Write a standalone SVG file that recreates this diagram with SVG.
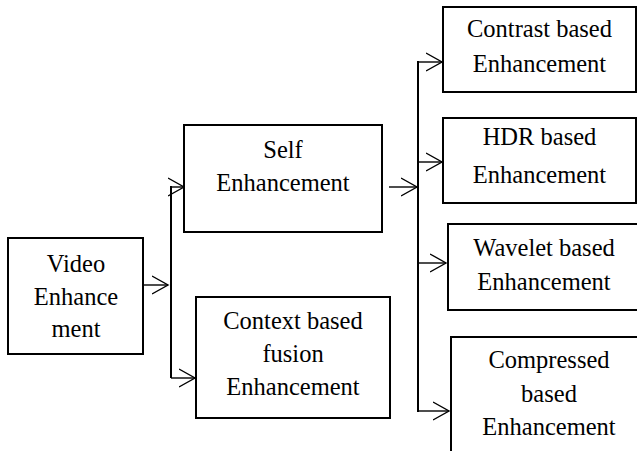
<svg xmlns="http://www.w3.org/2000/svg" width="637" height="451" viewBox="0 0 637 451">
<style>
.box{fill:#fff;stroke:#000;stroke-width:2}
.t{font-family:"Liberation Serif","Times New Roman",serif;font-size:24.5px;fill:#000;text-anchor:middle}
.ln{fill:none;stroke:#000;stroke-width:1.4}
.bus{fill:none;stroke:#000;stroke-width:2}
</style>
<defs>
<marker id="ah" markerUnits="userSpaceOnUse" markerWidth="20" markerHeight="22" refX="16" refY="10" orient="auto" viewBox="0 0 20 22">
<path d="M0,1 L16,10 L0,19" fill="none" stroke="#000" stroke-width="1.4"/>
</marker>
</defs>
<rect width="637" height="451" fill="#fff"/>
<g id="connectors">
<line class="ln" x1="143" y1="285" x2="168" y2="285" marker-end="url(#ah)"/>
<line class="bus" x1="171" y1="186" x2="171" y2="378"/>
<line class="ln" x1="171" y1="187" x2="184" y2="187" marker-end="url(#ah)"/>
<line class="ln" x1="171" y1="378" x2="195" y2="378" marker-end="url(#ah)"/>
<line class="ln" x1="389" y1="187" x2="417" y2="187" marker-end="url(#ah)"/>
<line class="bus" x1="418" y1="61" x2="418" y2="412"/>
<line class="ln" x1="418" y1="62" x2="442" y2="62" marker-end="url(#ah)"/>
<line class="ln" x1="418" y1="162" x2="442" y2="162" marker-end="url(#ah)"/>
<line class="ln" x1="418" y1="263" x2="446" y2="263" marker-end="url(#ah)"/>
<line class="ln" x1="418" y1="411" x2="449" y2="411" marker-end="url(#ah)"/>
</g>
<g id="video">
<rect class="box" x="8" y="238" width="135" height="116"/>
<text class="t" x="76" y="272">Video</text>
<text class="t" x="76" y="305">Enhance</text>
<text class="t" x="76" y="337">ment</text>
</g>
<g id="self">
<rect class="box" x="184" y="125" width="198" height="107"/>
<text class="t" x="283" y="158">Self</text>
<text class="t" x="283" y="191">Enhancement</text>
</g>
<g id="context">
<rect class="box" x="196" y="297" width="194" height="121"/>
<text class="t" x="293" y="329">Context based</text>
<text class="t" x="293" y="362">fusion</text>
<text class="t" x="293" y="395">Enhancement</text>
</g>
<g id="contrast">
<rect class="box" x="443" y="7" width="193" height="85"/>
<text class="t" x="539.5" y="37">Contrast based</text>
<text class="t" x="539.5" y="72">Enhancement</text>
</g>
<g id="hdr">
<rect class="box" x="443" y="118" width="193" height="85"/>
<text class="t" x="539.5" y="145">HDR based</text>
<text class="t" x="539.5" y="183">Enhancement</text>
</g>
<g id="wavelet">
<rect class="box" x="448" y="224" width="195" height="86"/>
<text class="t" x="544" y="256">Wavelet based</text>
<text class="t" x="544" y="290">Enhancement</text>
</g>
<g id="compressed">
<rect class="box" x="451" y="337" width="196" height="125"/>
<text class="t" x="549" y="368">Compressed</text>
<text class="t" x="549" y="402">based</text>
<text class="t" x="549" y="435">Enhancement</text>
</g>
</svg>
